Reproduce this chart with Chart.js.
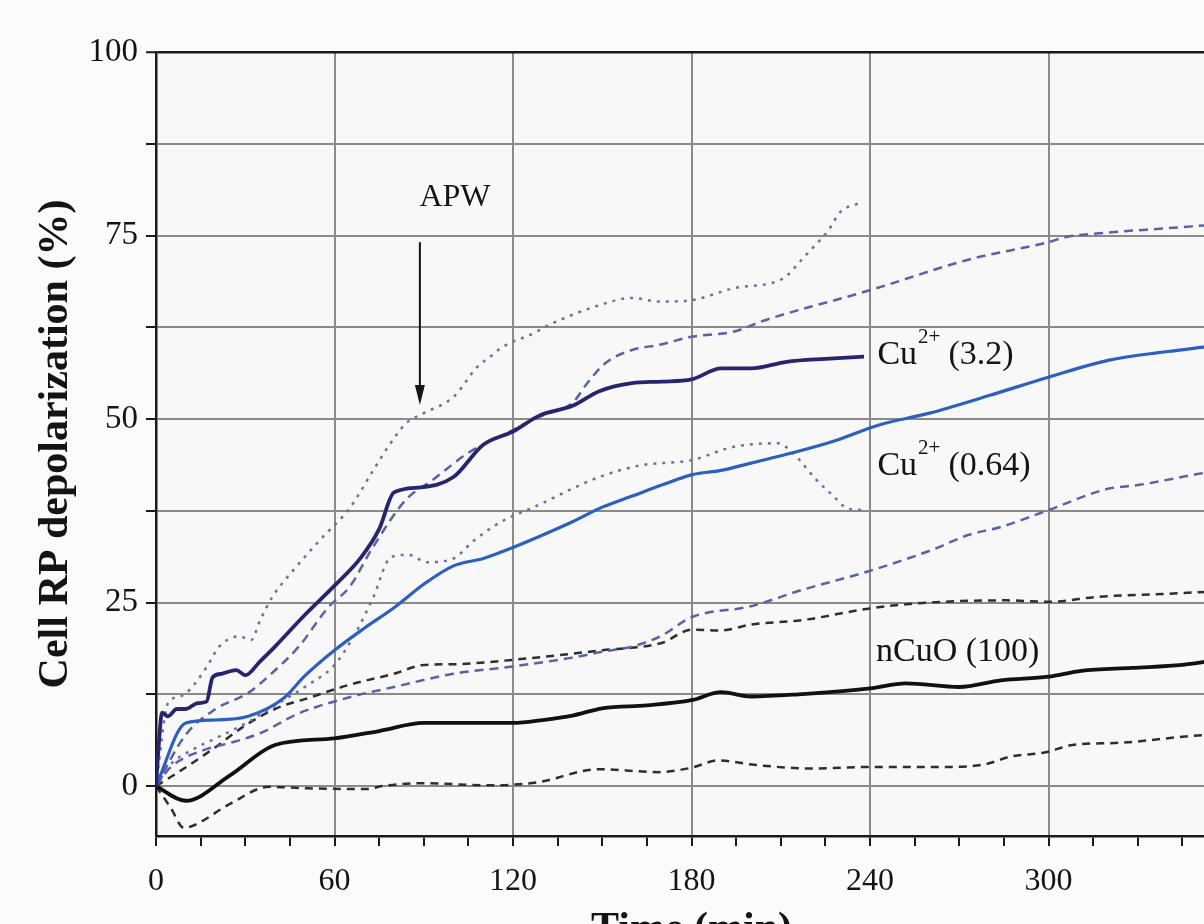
<!DOCTYPE html>
<html>
<head>
<meta charset="utf-8">
<script src="https://cdn.jsdelivr.net/npm/chart.js@4.4.1/dist/chart.umd.min.js"></script>
<style>
  html, body { margin: 0; padding: 0; overflow: hidden; background: #fbfbfb; }
  #wrap { width: 1300px; height: 960px; }
</style>
</head>
<body>
<div id="wrap"><canvas id="c" width="1300" height="960"></canvas></div>
<script>
// Time axis (min) and depolarization axis (%) tick labels
const xTickLabels = [0, 60, 120, 180, 240, 300, 360];
const yTickLabels = [0, 25, 50, 75, 100];

// Cu2+ (3.2) mean response
const cu32Time = [0, 1, 2, 4, 7, 10, 14, 17, 19, 22, 27, 30, 35, 40, 50, 60, 69, 75, 80, 89, 100, 110, 120, 129, 140, 149, 160, 170, 180, 190, 200, 212, 225, 238];
const cu32Val  = [0, 6, 10, 9.5, 10.5, 10.5, 11.3, 11.5, 14.8, 15.3, 15.8, 15.1, 17, 19, 23.3, 27.3, 31.2, 35, 40, 40.7, 42.1, 46.5, 48.3, 50.5, 51.8, 53.8, 54.9, 55.1, 55.4, 56.9, 56.9, 57.8, 58.2, 58.5];
// Cu2+ (3.2) upper / lower bounds (dotted)
const cu32UpTime = [0, 4, 7, 10, 17, 21, 24, 28, 32, 35, 39, 47, 56, 65, 73, 78, 84, 90, 100, 108, 113, 116, 127, 132, 149, 160, 169, 180, 194, 211, 217, 220, 226, 230, 237];
const cu32UpVal  = [0, 11.3, 12.1, 12.6, 16.2, 18.9, 19.9, 20.4, 19.9, 22.6, 25.7, 29.8, 33.9, 37.8, 43, 46.2, 49.4, 50.8, 53, 57.1, 58.7, 59.7, 61.7, 62.8, 65.5, 66.5, 66, 66.2, 67.8, 69.2, 71.7, 73, 75.7, 78.2, 79.5];
const cu32LoTime = [0, 5, 12, 20, 30, 40, 50, 60, 67, 73, 79, 85, 91, 100, 107, 116, 127, 149, 163, 180, 194, 209, 214, 222, 228, 232, 237];
const cu32LoVal  = [0, 3, 4.9, 6.5, 8.5, 11, 13.5, 16.5, 20.8, 25.7, 31.2, 31.5, 30.5, 31, 33.5, 36, 38, 42.1, 43.7, 44.4, 46.2, 46.7, 45.4, 41.7, 39.4, 37.9, 37.6];

// Cu2+ (0.64) mean response
const cu064Time = [0, 10, 20, 31, 43, 50, 60, 70, 80, 90, 100, 110, 120, 130, 140, 150, 160, 170, 180, 190, 200, 214, 228, 243, 260, 280, 300, 320, 340, 352, 360];
const cu064Val  = [0, 8.6, 9, 9.5, 12, 15, 18.5, 21.5, 24.3, 27.5, 30, 31, 32.5, 34.2, 36, 38, 39.5, 41, 42.4, 43, 44, 45.4, 47, 49.2, 50.8, 53.2, 55.7, 58, 59.2, 59.8, 60.2];
// Cu2+ (0.64) upper / lower bounds (dashed blue)
const cu064UpTime = [0, 10, 20, 31, 39, 48, 58, 65, 73, 84, 93, 105, 118, 130, 140, 145, 151, 160, 169, 180, 194, 205, 220, 231, 242, 273, 300, 306, 317, 340, 360];
const cu064UpVal  = [0, 7, 10.5, 12.7, 15.4, 19, 24.4, 27.1, 32.6, 39, 41.7, 45.4, 48.1, 50.5, 52.2, 54.9, 57.6, 59.4, 60.1, 61.2, 61.9, 63.5, 65.3, 66.5, 67.8, 71.7, 74.1, 74.8, 75.3, 76, 76.6];
const cu064LoTime = [0, 5, 16, 26, 35, 48, 65, 80, 100, 120, 140, 150, 160, 170, 180, 200, 217, 239, 261, 273, 284, 300, 320, 330, 350, 360];
const cu064LoVal  = [0, 2.6, 4.9, 6, 7.2, 9.9, 12.1, 13.5, 15.3, 16.3, 17.5, 18.3, 19, 20.5, 23, 24.5, 26.7, 29.2, 32.2, 34.2, 35.3, 37.6, 40.5, 41, 42.5, 43.2];

// nCuO (100) mean response
const ncuoTime = [0, 10, 25, 40, 60, 75, 90, 105, 120, 130, 140, 150, 165, 180, 190, 200, 216, 240, 252, 270, 284, 300, 311, 328, 345, 360];
const ncuoVal  = [0, -2, 1.5, 5.6, 6.5, 7.5, 8.6, 8.6, 8.6, 9, 9.6, 10.6, 11, 11.7, 12.8, 12.2, 12.5, 13.3, 14, 13.5, 14.4, 14.9, 15.7, 16.1, 16.5, 17.4];
// nCuO (100) upper / lower bounds (dashed black)
const ncuoUpTime = [0, 6, 20, 29, 40, 52, 65, 80, 90, 100, 120, 150, 170, 180, 190, 200, 217, 240, 256, 286, 300, 317, 340, 360];
const ncuoUpVal  = [0, 1.5, 5.3, 8, 10.5, 12.1, 13.8, 15.3, 16.5, 16.6, 17.2, 18.5, 19.5, 21.3, 21.2, 22, 22.6, 24.2, 24.9, 25.3, 25.1, 25.8, 26.2, 26.6];
const ncuoLoTime = [0, 5, 9.4, 13, 25, 38, 51, 71, 76, 89, 112, 128, 149, 169, 180, 189, 201, 220, 240, 266, 279, 287, 299, 308, 324, 350, 360];
const ncuoLoVal  = [0, -3, -5.7, -5.3, -2.4, -0.1, -0.3, -0.4, 0, 0.4, 0.1, 0.5, 2.3, 1.9, 2.5, 3.5, 2.9, 2.4, 2.6, 2.6, 3, 4, 4.6, 5.6, 5.9, 6.9, 7.1];

// In-plot annotations
const seriesLabels = [
  { ion: true, tail: '(3.2)', x: 242.5, y: 58.7 },
  { ion: true, tail: '(0.64)', x: 242.5, y: 43.6 },
  { ion: false, text: 'nCuO (100)', x: 242, y: 18.3 }
];
const apwLabel = { text: 'APW', x: 100.5, y: 80.2 };
const apwArrow = { x: 88.7, yFrom: 74.1, yTo: 51.9 };

const pts = (t, v) => t.map((x, i) => ({ x, y: v[i] }));

const SERIF = '"Liberation Serif", "Times New Roman", serif';

function line(data, color, width, dash) {
  return {
    data, borderColor: color, borderWidth: width, borderDash: dash || [],
    pointRadius: 0, fill: false, cubicInterpolationMode: 'monotone',
    borderCapStyle: 'butt', borderJoinStyle: 'round'
  };
}

const datasets = [
  line(pts(cu32Time, cu32Val), '#26266f', 3.8),
  line(pts(cu064Time, cu064Val), '#2c5fbe', 3.2),
  line(pts(ncuoTime, ncuoVal), '#111111', 3.8),
  line(pts(cu32UpTime, cu32UpVal), '#6f6fa0', 2.5, [3, 6]),
  line(pts(cu32LoTime, cu32LoVal), '#6f6fa0', 2.5, [3, 6]),
  line(pts(cu064UpTime, cu064UpVal), '#5763a6', 2.5, [9, 6]),
  line(pts(cu064LoTime, cu064LoVal), '#5763a6', 2.5, [9, 6]),
  line(pts(ncuoUpTime, ncuoUpVal), '#2e2e2e', 2.5, [8, 6]),
  line(pts(ncuoLoTime, ncuoLoVal), '#2e2e2e', 2.5, [8, 6])
];

// Light plot background
const plotBackground = {
  id: 'plotBackground',
  beforeDraw(chart) {
    const { ctx, chartArea: a } = chart;
    ctx.save();
    ctx.fillStyle = '#f8f8f8';
    ctx.fillRect(a.left, a.top, a.right - a.left, a.bottom - a.top);
    ctx.restore();
  }
};

// Series names, APW label and arrow
const annotations = {
  id: 'annotations',
  afterDatasetsDraw(chart) {
    const { ctx, scales: { x, y } } = chart;
    ctx.save();
    ctx.fillStyle = '#141414';
    ctx.textAlign = 'left';
    ctx.textBaseline = 'middle';
    seriesLabels.forEach(l => {
      const px = x.getPixelForValue(l.x), py = y.getPixelForValue(l.y);
      if (l.ion) {
        ctx.font = '34px ' + SERIF;
        ctx.fillText('Cu', px, py);
        const w = ctx.measureText('Cu').width;
        ctx.font = '21px ' + SERIF;
        ctx.fillText('2+', px + w + 1, py - 18);
        const w2 = ctx.measureText('2+').width;
        ctx.font = '34px ' + SERIF;
        ctx.fillText(l.tail, px + w + w2 + 9, py);
      } else {
        ctx.font = '34px ' + SERIF;
        ctx.fillText(l.text, px, py);
      }
    });
    ctx.font = '32px ' + SERIF;
    ctx.textAlign = 'center';
    ctx.fillText(apwLabel.text, x.getPixelForValue(apwLabel.x), y.getPixelForValue(apwLabel.y));

    const ax = x.getPixelForValue(apwArrow.x);
    const ay0 = y.getPixelForValue(apwArrow.yFrom);
    const ay1 = y.getPixelForValue(apwArrow.yTo);
    ctx.strokeStyle = '#141414';
    ctx.lineWidth = 2;
    ctx.beginPath();
    ctx.moveTo(ax, ay0);
    ctx.lineTo(ax, ay1 - 14);
    ctx.stroke();
    ctx.beginPath();
    ctx.moveTo(ax - 5, ay1 - 20);
    ctx.lineTo(ax + 5, ay1 - 20);
    ctx.lineTo(ax, ay1);
    ctx.closePath();
    ctx.fill();
    ctx.restore();
  }
};

new Chart(document.getElementById('c'), {
  type: 'line',
  data: { datasets },
  plugins: [plotBackground, annotations],
  options: {
    responsive: false,
    animation: false,
    parsing: true,
    layout: { padding: { left: 0, top: 52, right: 73, bottom: 0 } },
    plugins: { legend: { display: false }, tooltip: { enabled: false } },
    scales: {
      x: {
        type: 'linear',
        min: 0,
        max: 360,
        afterBuildTicks(scale) {
          const t = [];
          for (let v = 0; v <= 360; v += 15) t.push({ value: v });
          scale.ticks = t;
        },
        afterFit(scale) { scale.height = 124; },
        ticks: {
          autoSkip: false,
          maxRotation: 0,
          padding: 16,
          color: '#141414',
          font: { family: SERIF, size: 32 },
          callback: v => xTickLabels.includes(v) ? String(v) : ''
        },
        grid: {
          color: c => (c.tick && c.tick.value % 60 === 0) ? '#8a8a8a' : 'rgba(0,0,0,0)',
          lineWidth: 2,
          tickColor: '#1a1a1a',
          tickLength: 10,
          tickWidth: 2
        },
        border: { color: '#1a1a1a', width: 2.5 },
        title: {
          display: true,
          text: 'Time (min)',
          color: '#141414',
          font: { family: SERIF, size: 42, weight: 'bold' },
          padding: { top: 0, bottom: 5 }
        }
      },
      y: {
        type: 'linear',
        min: -6.8,
        max: 100,
        afterBuildTicks(scale) {
          const t = [];
          for (let v = 0; v <= 100; v += 12.5) t.push({ value: v });
          scale.ticks = t;
        },
        afterFit(scale) { scale.width = 156; },
        ticks: {
          autoSkip: false,
          padding: 8,
          color: '#141414',
          font: { family: SERIF, size: 33 },
          callback: v => yTickLabels.includes(v) ? String(v) : ''
        },
        grid: {
          color: c => (c.tick && c.tick.value === 100) ? '#1a1a1a' : '#8a8a8a',
          lineWidth: c => (c.tick && c.tick.value === 100) ? 2.5 : 2,
          tickColor: '#1a1a1a',
          tickLength: 10,
          tickWidth: 2
        },
        border: { color: '#1a1a1a', width: 2.5 },
        title: {
          display: true,
          text: 'Cell RP depolarization (%)',
          color: '#141414',
          font: { family: SERIF, size: 42, weight: 'bold' },
          padding: { top: 31, bottom: 0 }
        }
      }
    }
  }
});
</script>
</body>
</html>
